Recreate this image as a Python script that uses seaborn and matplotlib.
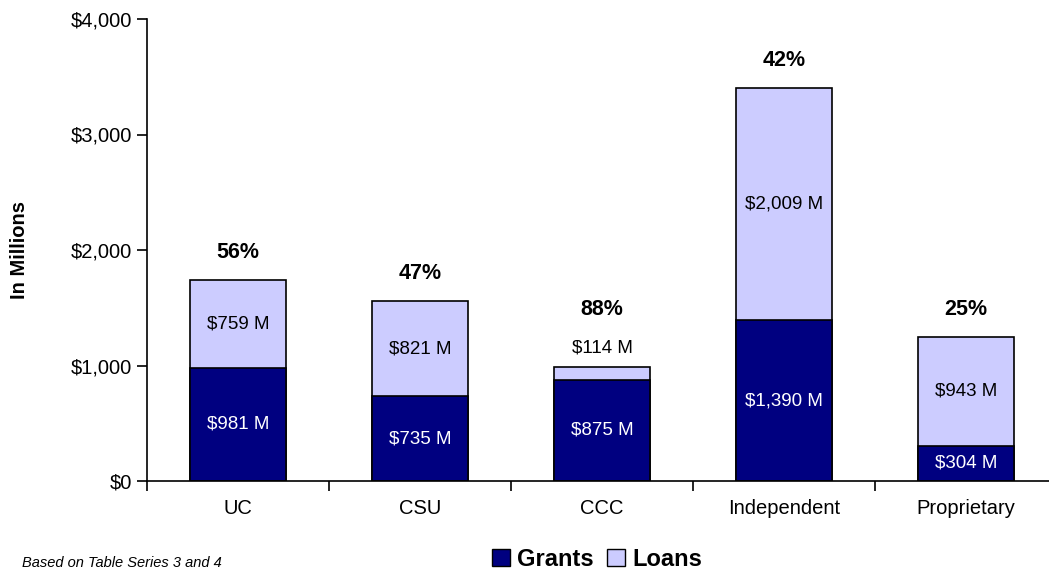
import pandas as pd
import matplotlib
matplotlib.use('Agg')
import matplotlib.pyplot as plt
import seaborn as sns
from matplotlib.patches import Patch

# data ($ millions)
sectors = ['UC', 'CSU', 'CCC', 'Independent', 'Proprietary']
grants = [981, 735, 875, 1390, 304]
loans = [759, 821, 114, 2009, 943]
grant_share = ['56%', '47%', '88%', '42%', '25%']
yticks = [0, 1000, 2000, 3000, 4000]

navy = '#000080'
lilac = '#CCCCFF'

sns.set_theme(style='white')
plt.rcParams['font.family'] = ['Liberation Sans', 'DejaVu Sans']
plt.rcParams['text.color'] = 'black'

df = pd.DataFrame({'sector': sectors, 'grants': grants, 'loans': loans})
df['total'] = df['grants'] + df['loans']

fig = plt.figure(figsize=(10.49, 5.71), dpi=100)
ax = fig.add_axes([147 / 1049, 90 / 571, 910 / 1049, 462 / 571])

# totals first (loans colour), grants drawn over them
sns.barplot(data=df, x='sector', y='total', color=lilac, saturation=1,
            edgecolor='black', linewidth=1.2, width=0.53, ax=ax)
sns.barplot(data=df, x='sector', y='grants', color=navy, saturation=1,
            edgecolor='black', linewidth=1.2, width=0.53, ax=ax)

for i, row in df.iterrows():
    ax.text(i, row['grants'] / 2, f"${row['grants']:,} M", ha='center', va='center',
            color='white', fontsize=13.5)
    if row['loans'] > 300:
        ax.text(i, row['grants'] + row['loans'] / 2, f"${row['loans']:,} M",
                ha='center', va='center', color='black', fontsize=13.5)
    else:
        ax.text(i, row['total'] + 160, f"${row['loans']:,} M",
                ha='center', va='center', color='black', fontsize=13.5)

label_offset = [240, 240, 500, 240, 240]
for i, row in df.iterrows():
    ax.text(i, row['total'] + label_offset[i], grant_share[i], ha='center', va='center',
            fontsize=15.5, fontweight='bold', color='black')

ax.set_xlim(-0.5, 4.5)
ax.set_ylim(0, 4000)
ax.set_yticks(yticks)
ax.set_yticklabels([f'${v:,}' for v in yticks], fontsize=14.5)
ax.set_xticks(range(len(sectors)))
ax.set_xticklabels(sectors, fontsize=14.5)
ax.set_xlabel('')
ax.set_ylabel('In Millions', fontsize=14.5, fontweight='bold', labelpad=30, color='black')

# category boundary ticks on the x axis
ax.set_xticks([i + 0.5 for i in range(-1, 5)], minor=True)
ax.tick_params(axis='x', which='major', bottom=False, length=0, pad=13)
ax.tick_params(axis='x', which='minor', bottom=True, length=7, width=1.2,
               color='black', direction='out')
ax.tick_params(axis='y', left=True, length=7, width=1.2, color='black',
               direction='out', pad=4)
for lbl in ax.get_xticklabels() + ax.get_yticklabels():
    lbl.set_color('black')

sns.despine(ax=ax, top=True, right=True)
ax.spines['left'].set_color('black')
ax.spines['bottom'].set_color('black')
ax.spines['left'].set_linewidth(1.2)
ax.spines['bottom'].set_linewidth(1.2)

handles = [Patch(facecolor=navy, edgecolor='black', label='Grants'),
           Patch(facecolor=lilac, edgecolor='black', label='Loans')]
fig.legend(handles=handles, loc='center', bbox_to_anchor=(597 / 1049, 1 - 559 / 571),
           ncol=2, frameon=False, prop={'weight': 'bold', 'size': 17}, labelcolor='black',
           handlelength=0.75, handleheight=0.75, handletextpad=0.3, columnspacing=0.6)

fig.text(22 / 1049, 1 / 571, 'Based on Table Series 3 and 4', fontsize=10.5,
         style='italic', ha='left', va='bottom', color='black')

fig.savefig('out.png', dpi=100)
